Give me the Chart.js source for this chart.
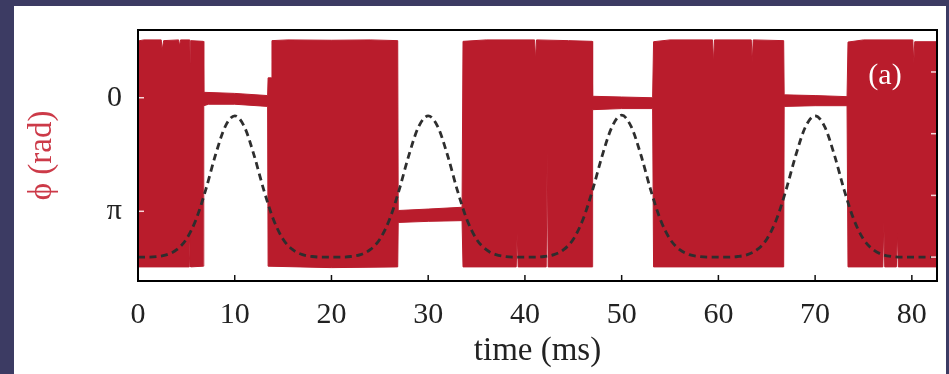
<!DOCTYPE html>
<html>
<head>
<meta charset="utf-8">
<script src="https://cdn.jsdelivr.net/npm/chart.js@4"></script>
<style>
  html, body { margin: 0; padding: 0; background: #3c3b63; width: 949px; height: 374px; overflow: hidden; }
  #panel { position: absolute; left: 14px; top: 6px; width: 932px; height: 368px; background: #fff; }
</style>
</head>
<body>
<div id="panel"><canvas id="phaseChart" width="932" height="368"></canvas></div>
<script>
// upper edge of the phase trace (ms, rad)
const upperTime = [
  0, 0.6, 2.4, 2.5, 2.65, 4.2, 4.3, 4.4, 5.35, 5.4, 5.45, 6.75,
  6.8, 10, 13.4,
  13.45, 13.8, 13.85, 15.5, 20, 24, 26.85,
  26.9, 30, 33.5,
  33.6, 36, 41, 41.1, 41.2, 44.5, 46.95,
  47, 50, 53.2,
  53.3, 55, 59.4, 59.5, 59.6, 63.4, 63.5, 63.6, 66.75,
  66.8, 70, 73.3,
  73.4, 75, 80.1, 80.2, 80.3, 82.6
];
const upperPhase = [
  -1.57, -1.60, -1.60, -1.32, -1.58, -1.60, -1.43, -1.60, -1.60, -0.96, -1.58, -1.56,
  -0.15, -0.12, -0.06,
  -0.55, -0.55, -1.58, -1.60, -1.59, -1.60, -1.58,
  3.12, 3.08, 3.03,
  -1.56, -1.60, -1.60, -1.05, -1.60, -1.58, -1.56,
  -0.04, -0.02, 0.0,
  -1.55, -1.60, -1.60, -0.96, -1.60, -1.60, -0.99, -1.60, -1.58,
  -0.08, -0.06, -0.03,
  -1.54, -1.60, -1.60, -0.96, -1.55, -1.55
];

// lower edge of the phase trace (ms, rad)
const lowerTime = [
  0, 5.3, 5.4, 5.45, 6.75,
  6.8, 7.3, 10, 13.4,
  13.45, 20, 26.85,
  26.9, 30, 33.5,
  33.6, 39.1, 39.2, 39.3, 42.2, 42.3, 42.4, 46.95,
  47, 50, 53.2,
  53.3, 66.75,
  66.8, 70, 73.3,
  73.4, 77, 77.1, 77.2, 78.4, 78.5, 78.6, 82.6
];
const lowerPhase = [
  4.68, 4.68, 3.72, 4.68, 4.66,
  0.22, 0.18, 0.18, 0.24,
  4.66, 4.70, 4.68,
  3.45, 3.42, 3.40,
  4.68, 4.68, 3.72, 4.68, 4.68, 1.43, 4.68, 4.68,
  0.33, 0.30, 0.30,
  4.68, 4.68,
  0.24, 0.22, 0.22,
  4.68, 4.68, 3.42, 4.68, 4.68, 3.72, 4.68, 4.68
];

// dashed drive envelope, sampled every 1 ms from t = 0
const envValue = [
  0, 0, 0.01, 0.04, 0.12, 0.29, 0.61, 1.09, 1.65, 2.11,
  2.29, 2.11, 1.65, 1.09, 0.61, 0.29, 0.12, 0.04, 0.01, 0,
  0, 0, 0.01, 0.04, 0.12, 0.29, 0.61, 1.09, 1.65, 2.11,
  2.29, 2.11, 1.65, 1.09, 0.61, 0.29, 0.12, 0.04, 0.01, 0,
  0, 0, 0.01, 0.04, 0.12, 0.29, 0.61, 1.09, 1.65, 2.11,
  2.30, 2.11, 1.65, 1.09, 0.61, 0.29, 0.12, 0.04, 0.01, 0,
  0, 0, 0.01, 0.04, 0.12, 0.29, 0.61, 1.09, 1.65, 2.11,
  2.29, 2.11, 1.65, 1.09, 0.61, 0.29, 0.12, 0.04, 0.01, 0,
  0, 0, 0
];
const envTime = envValue.map((_, i) => i);

const timeTicks = [0, 10, 20, 30, 40, 50, 60, 70, 80];
const phaseTicks = [0, Math.PI];
const phaseTickLabels = ['0', 'π'];
const envTicks = [0, 1, 2, 3];

const red = '#b91c2c';
const serif = '"Liberation Serif", "DejaVu Serif", serif';

const toPoints = (xs, ys) => xs.map((x, i) => ({ x: x, y: ys[i] }));

// frame, inward ticks and panel tag
const framePlugin = {
  id: 'frame',
  afterDatasetsDraw(chart) {
    const { ctx, chartArea: a, scales } = chart;
    ctx.save();
    ctx.lineWidth = 1.5;
    ctx.strokeStyle = '#111';
    scales.x.ticks.forEach(t => {
      const px = scales.x.getPixelForValue(t.value);
      ctx.beginPath();
      ctx.moveTo(px, a.bottom);
      ctx.lineTo(px, a.bottom - 6);
      ctx.stroke();
    });
    ctx.strokeStyle = 'rgba(255,235,235,0.9)';
    scales.y.ticks.forEach(t => {
      const py = scales.y.getPixelForValue(t.value);
      ctx.beginPath();
      ctx.moveTo(a.left, py);
      ctx.lineTo(a.left + 6, py);
      ctx.stroke();
    });
    scales.y2.ticks.forEach(t => {
      const py = scales.y2.getPixelForValue(t.value);
      ctx.beginPath();
      ctx.moveTo(a.right, py);
      ctx.lineTo(a.right - 6, py);
      ctx.stroke();
    });
    ctx.lineWidth = 2;
    ctx.strokeStyle = '#000';
    ctx.strokeRect(a.left, a.top, a.right - a.left, a.bottom - a.top);

    ctx.fillStyle = '#fff';
    ctx.font = '30px ' + serif;
    ctx.textAlign = 'center';
    ctx.textBaseline = 'middle';
    ctx.fillText('(a)', a.right - 52, a.top + 46);
    ctx.restore();
  }
};

new Chart(document.getElementById('phaseChart'), {
  type: 'line',
  data: {
    datasets: [
      {
        data: toPoints(upperTime, upperPhase),
        yAxisID: 'y',
        order: 2,
        borderColor: red,
        backgroundColor: red,
        borderWidth: 1,
        pointRadius: 0,
        tension: 0,
        fill: '+1'
      },
      {
        data: toPoints(lowerTime, lowerPhase),
        yAxisID: 'y',
        order: 3,
        borderColor: red,
        borderWidth: 1,
        pointRadius: 0,
        tension: 0,
        fill: false
      },
      {
        data: toPoints(envTime, envValue),
        yAxisID: 'y2',
        order: 0,
        borderColor: '#2e2e2e',
        borderWidth: 2.8,
        borderDash: [7, 4.5],
        pointRadius: 0,
        cubicInterpolationMode: 'monotone',
        fill: false
      }
    ]
  },
  options: {
    responsive: false,
    animation: false,
    layout: { padding: { top: 24, right: 9, left: 0, bottom: 0 } },
    plugins: { legend: { display: false }, tooltip: { enabled: false } },
    scales: {
      x: {
        type: 'linear',
        min: 0,
        max: 82.6,
        grid: { display: false, drawTicks: false },
        border: { display: false },
        afterBuildTicks: s => { s.ticks = timeTicks.map(v => ({ value: v })); },
        afterFit: s => { s.height = 93; s.paddingLeft = 0; s.paddingRight = 0; },
        ticks: { color: '#222', padding: 16, maxRotation: 0, font: { family: serif, size: 30 } },
        title: {
          display: true,
          text: 'time (ms)',
          color: '#222',
          font: { family: serif, size: 33 },
          padding: { top: 0, bottom: 3 }
        }
      },
      y: {
        reverse: true,
        min: -1.874,
        max: 5.07,
        grid: { display: false, drawTicks: false },
        border: { display: false },
        afterBuildTicks: s => { s.ticks = phaseTicks.map(v => ({ value: v })); },
        afterFit: s => { s.width = 124; s.paddingTop = 0; s.paddingBottom = 0; },
        ticks: {
          color: '#222',
          padding: 16,
          font: { family: serif, size: 30 },
          callback: (v, i) => phaseTickLabels[i]
        },
        title: {
          display: true,
          text: 'ϕ (rad)',
          color: '#cc3a48',
          font: { family: serif, size: 33 },
          padding: { top: 9, bottom: 0 }
        }
      },
      y2: {
        position: 'right',
        min: -0.387,
        max: 3.68,
        grid: { display: false, drawTicks: false },
        border: { display: false },
        afterBuildTicks: s => { s.ticks = envTicks.map(v => ({ value: v })); },
        afterFit: s => { s.width = 0; s.paddingTop = 0; s.paddingBottom = 0; },
        ticks: { display: false }
      }
    }
  },
  plugins: [framePlugin]
});
</script>
</body>
</html>
